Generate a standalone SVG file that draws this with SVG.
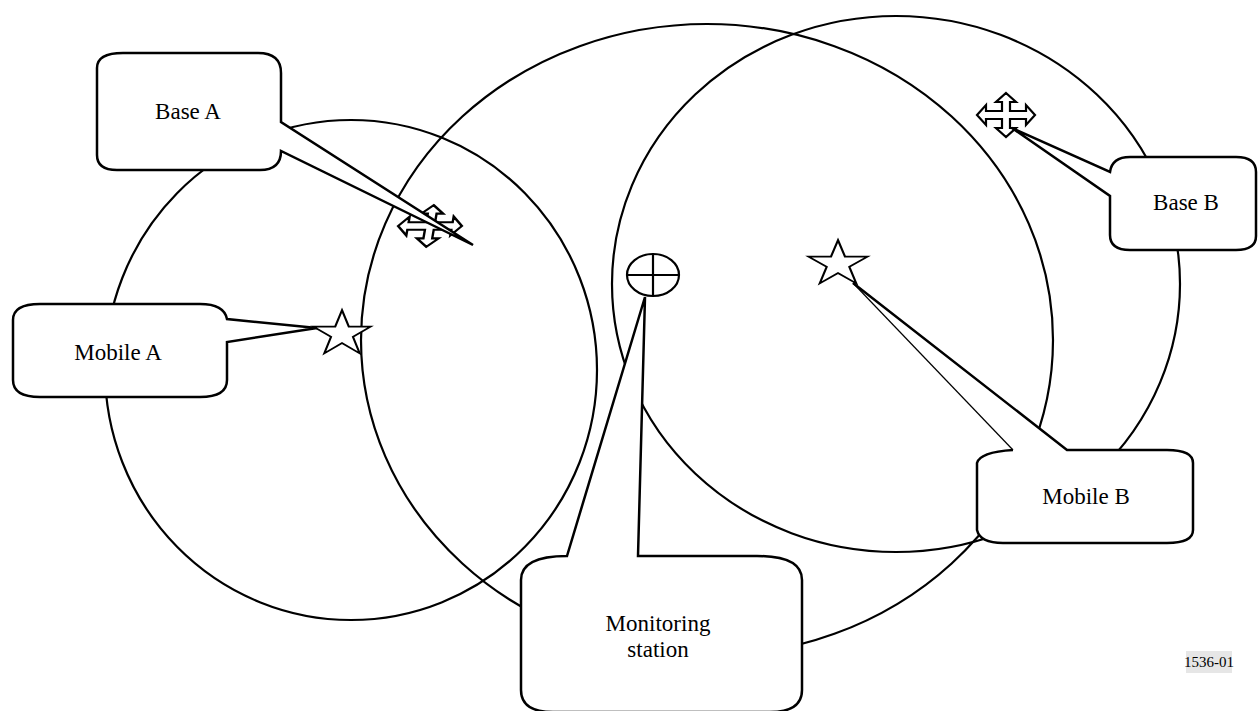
<svg xmlns="http://www.w3.org/2000/svg" width="1258" height="711" viewBox="0 0 1258 711">
<defs>
<style>
.ring{fill:none;stroke:#000;stroke-width:2.2}
.call{fill:#fff;stroke:#000;stroke-width:2.5;stroke-linejoin:miter}
.sym{fill:#fff;stroke:#000;stroke-width:2.2;stroke-linejoin:miter}
.lbl{font-family:"Liberation Serif","Times New Roman",serif;font-size:23px;fill:#000;text-anchor:middle}
.thin{fill:none;stroke:#000;stroke-width:1.2}
</style>
<path id="cross" d="M0,-22 L10,-13 L4,-13 L4,-4 L20,-4 L20,-10 L29,0 L20,10 L20,4 L4,4 L4,13 L10,13 L0,22 L-10,13 L-4,13 L-4,4 L-20,4 L-20,10 L-29,0 L-20,-10 L-20,-4 L-4,-4 L-4,-13 L-10,-13 Z"/>
<path id="star" d="M0,-31 L7.0,-9.6 L29.5,-9.6 L11.3,3.7 L18.2,25.1 L0,11.9 L-18.2,25.1 L-11.3,3.7 L-29.5,-9.6 L-7.0,-9.6 Z"/>
</defs>
<g id="coverage">
<ellipse class="ring" cx="351" cy="370" rx="246" ry="250"/>
<ellipse class="ring" cx="707" cy="340" rx="346" ry="316"/>
<ellipse class="ring" cx="896" cy="284" rx="284" ry="268"/>
</g>
<g id="symbols">
<use href="#cross" class="sym" transform="translate(430,226) skewX(-10) scale(1.1,0.95)"/>
<use href="#cross" class="sym" transform="translate(1006,115)"/>
<use href="#star" class="sym" transform="translate(342,334) scale(0.97,0.77)"/>
<use href="#star" class="sym" transform="translate(838,264) scale(1,0.77)"/>
<g id="monitor-symbol">
<ellipse cx="653" cy="275" rx="26" ry="21" class="sym"/>
<line x1="627" y1="275" x2="679" y2="275" stroke="#000" stroke-width="2.2"/>
<line x1="653" y1="254" x2="653" y2="296" stroke="#000" stroke-width="2.2"/>
</g>
</g>
<g id="connectors">
<path id="callout-base-a" class="call" d="M123,53 L258,53 Q281,53 281,73 L281,122 L473,245 L281,151 Q281,170 260,170 L117,170 Q97,170 97,155 L97,68 Q97,53 123,53 Z"/>
<path id="callout-base-b" class="call" d="M1130,157 L1236,157 Q1256,157 1256,172 L1256,236 Q1256,250 1236,250 L1130,250 Q1110,250 1110,235 L1110,196 L1012,128 L1110,172 Q1112,157 1130,157 Z"/>
<path id="callout-mobile-a" class="call" d="M40,304 L200,304 Q224,304 227,319 L317,328 L227,342 L227,380 Q227,397 200,397 L40,397 Q13,397 13,380 L13,320 Q13,304 40,304 Z"/>
<path id="callout-mobile-b" class="call" d="M1013,450 Q980,452 977,463 L977,530 Q980,543 1003,543 L1167,543 Q1193,543 1193,530 L1193,463 Q1193,450 1167,450 L1067,450 L853,283"/>
<line class="thin" x1="853" y1="283" x2="1013" y2="450"/>
<path id="callout-monitor" class="call" d="M567,556 L645,297 L638,556 L757,556 Q802,556 802,580 L802,690 Q802,712 770,712 L553,712 Q521,712 521,690 L521,580 Q521,556 567,556 Z"/>
</g>
<g id="base-a"><text class="lbl" x="188" y="119">Base A</text></g>
<g id="base-b"><text class="lbl" x="1186" y="210">Base B</text></g>
<g id="mobile-a"><text class="lbl" x="118" y="360">Mobile A</text></g>
<g id="mobile-b"><text class="lbl" x="1086" y="504">Mobile B</text></g>
<g id="monitoring-station"><text class="lbl" x="658" y="631">Monitoring</text><text class="lbl" x="658" y="657">station</text></g>
<g id="figure-id">
<rect x="1186" y="651" width="46" height="22" fill="#e6e6e6"/>
<text x="1209" y="667" font-family="Liberation Serif, serif" font-size="15" text-anchor="middle">1536-01</text>
</g>
</svg>
